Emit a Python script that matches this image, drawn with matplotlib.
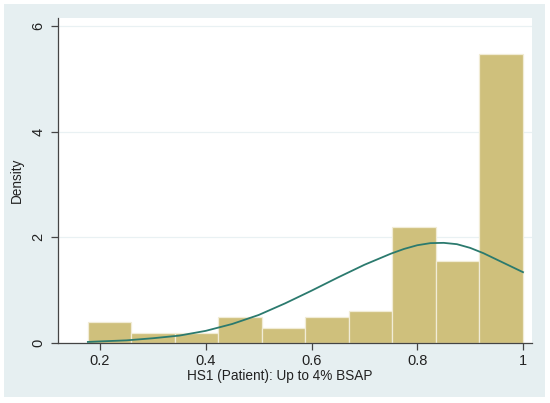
import matplotlib
matplotlib.use("Agg")
import matplotlib.pyplot as plt
from matplotlib.patches import Rectangle
import numpy as np

# histogram of HS1 (Patient): Up to 4% BSAP, 10 bins between min and max
bin_min = 0.177
bin_max = 1.0
density = [0.40, 0.19, 0.19, 0.50, 0.29, 0.50, 0.61, 2.20, 1.56, 5.47]

# normal density overlay
curve_x = [0.177, 0.2, 0.25, 0.3, 0.35, 0.4, 0.45, 0.5, 0.55, 0.6, 0.65,
           0.7, 0.75, 0.775, 0.8, 0.825, 0.85, 0.875, 0.9, 0.925, 0.95,
           0.975, 1.0]
curve_y = [0.02, 0.03, 0.05, 0.09, 0.14, 0.23, 0.36, 0.53, 0.75, 0.99, 1.24,
           1.48, 1.69, 1.78, 1.85, 1.89, 1.895, 1.87, 1.80, 1.70, 1.58,
           1.46, 1.34]

xticks = [0.2, 0.4, 0.6, 0.8, 1.0]
xticklabels = ["0.2", "0.4", "0.6", "0.8", "1"]
yticks = [0, 2, 4, 6]

plt.rcParams['font.family'] = ['Liberation Sans', 'DejaVu Sans']

fig = plt.figure(figsize=(5.5, 4.03), dpi=100)
fig.patch.set_facecolor('white')
# light blue-grey graph region (Stata s2color style)
fig.patches.append(Rectangle((4/550, 6/403), 541/550, 393/403,
                             transform=fig.transFigure, facecolor='#e6eff1',
                             edgecolor='none', zorder=-10))

ax = fig.add_axes([58/550, 1 - 343/403, 474/550, 325/403])
ax.set_zorder(1)
ax.set_facecolor('white')

edges = np.linspace(bin_min, bin_max, len(density) + 1)
ax.bar(edges[:-1], density, width=np.diff(edges), align='edge',
       color='#cfc07c', edgecolor='#f1ecd6', linewidth=0.9, zorder=2)
ax.plot(curve_x, curve_y, color='#2b7a6e', lw=1.3, zorder=3)

ax.set_xlim(0.1205, 1.017)
ax.set_ylim(0, 6.15)

ax.set_xticks(xticks)
ax.set_xticklabels(xticklabels)
ax.set_yticks(yticks)
ax.set_yticklabels([str(v) for v in yticks], rotation=90, va='center')

ax.grid(axis='y', color='#e9f1f3', lw=0.9, zorder=1)
ax.set_axisbelow(True)

for side in ['top', 'right']:
    ax.spines[side].set_visible(False)
for side in ['left', 'bottom']:
    ax.spines[side].set_color('#444444')
    ax.spines[side].set_linewidth(0.9)

ax.tick_params(axis='both', length=5, width=0.9, color='#444444',
               labelsize=10.5, labelcolor='#222222')
ax.tick_params(axis='y', pad=4)
ax.tick_params(axis='x', pad=3)

ax.set_xlabel("HS1 (Patient): Up to 4% BSAP", fontsize=9.8, color='#222222')
ax.xaxis.set_label_coords(0.468, -0.08)
ax.set_ylabel("Density", fontsize=9.8, color='#222222')
ax.yaxis.set_label_coords(-0.072, 0.5)

fig.savefig("out.png", dpi=100)
